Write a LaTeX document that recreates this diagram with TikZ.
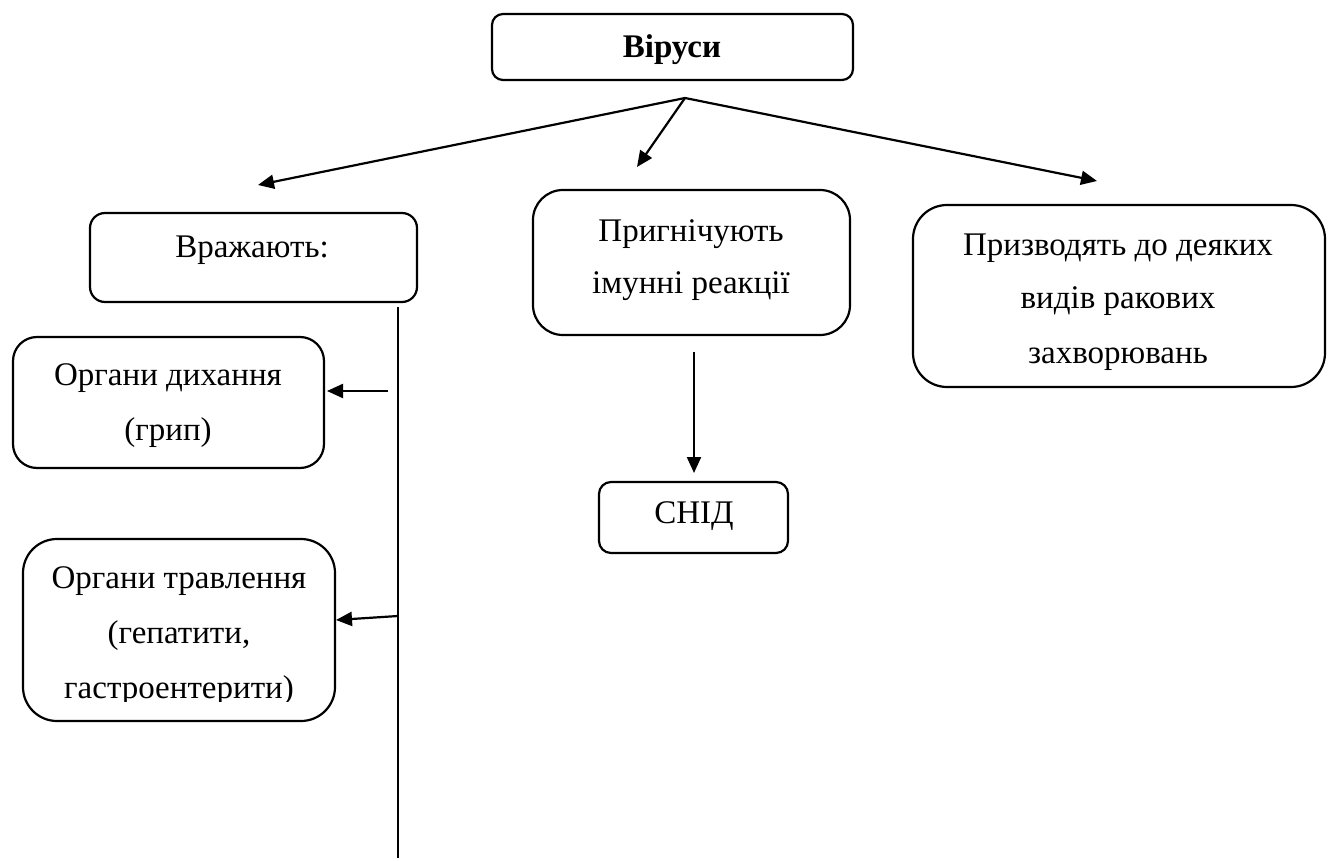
\documentclass[tikz,border=0pt]{standalone}
\usepackage{fontspec}
\setmainfont{Liberation Serif}
\usetikzlibrary{arrows.meta}
\begin{document}
\begin{tikzpicture}[x=1pt,y=-1pt,
  every node/.style={inner sep=0pt,outer sep=0pt},
  box/.style={draw,line width=2.2pt},
  txt/.style={anchor=base,font=\fontsize{33}{40}\selectfont},
  link/.style={line width=2.2pt},
  arr/.style={line width=2.2pt,-{Triangle[length=16pt,width=14pt]}}]
\useasboundingbox (0,0) rectangle (1331,861);

% boxes
\draw[box,rounded corners=11pt] (492,14) rectangle (853,80);
\node[txt,font=\fontsize{33}{40}\selectfont\bfseries] (viruses) at (672,58) {Віруси};

\draw[box,rounded corners=15pt] (90,213) rectangle (417,302);
\node[txt] (hit) at (252,258) {Вражають:};

\draw[box,rounded corners=24pt] (13,337) rectangle (324,468);
\node[txt] (resp1) at (168,385) {Органи дихання};
\node[txt] (resp2) at (168,440) {(грип)};

\draw[box,rounded corners=34pt] (23,539) rectangle (335,721);
\node[txt] (dig1) at (179,588) {Органи травлення};
\node[txt] (dig2) at (179,643) {(гепатити,};
\begin{scope}
  \clip (23,640) rectangle (335,701);
  \node[txt] (dig3) at (179,698) {гастроентерити)};
\end{scope}

\draw[box,rounded corners=30pt] (533,190) rectangle (850,335);
\node[txt] (imm1) at (691,242) {Пригнічують};
\node[txt] (imm2) at (691,293) {імунні реакції};

\draw[box,rounded corners=12pt] (599,482) rectangle (788,553);
\node[txt] (aids) at (694,523) {СНІД};

\draw[box,rounded corners=34pt] (913,205) rectangle (1325,387);
\node[txt] (canc1) at (1118,255) {Призводять до деяких};
\node[txt] (canc2) at (1118,308) {видів ракових};
\node[txt] (canc3) at (1118,363) {захворювань};

% connector end points
\coordinate (apex) at (685,98);
\coordinate (tipL) at (258,185);
\coordinate (tipM) at (637,167);
\coordinate (tipR) at (1097,181);
\coordinate (spineTop) at (398,307);
\coordinate (spineBot) at (398,858);
\coordinate (b1) at (388,391);
\coordinate (t1) at (327,391);
\coordinate (b2) at (398,616);
\coordinate (t2) at (336,620);
\coordinate (dTop) at (694,352);
\coordinate (dTip) at (694,473);

% connectors
\draw[arr] (apex) -- (tipL);
\draw[arr] (apex) -- (tipM);
\draw[arr] (apex) -- (tipR);
\draw[link] (spineTop) -- (spineBot);
\draw[arr] (b1) -- (t1);
\draw[arr] (b2) -- (t2);
\draw[arr] (dTop) -- (dTip);
\end{tikzpicture}
\end{document}
